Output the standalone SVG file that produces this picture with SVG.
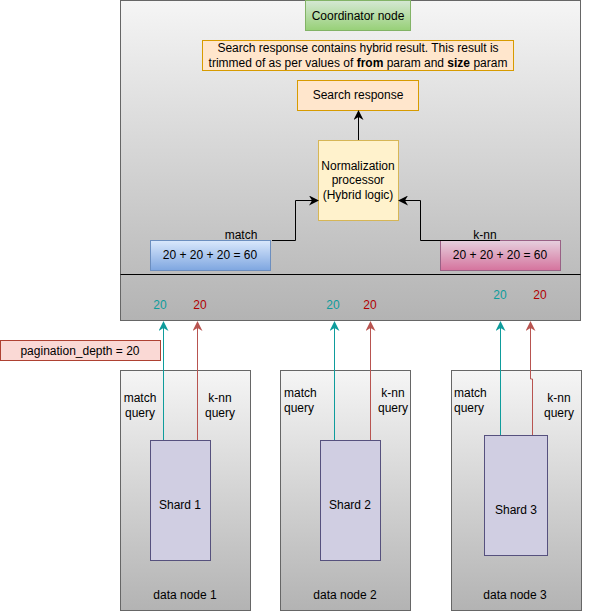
<svg xmlns="http://www.w3.org/2000/svg" width="591" height="611" viewBox="0 0 591 611">
<defs>
<linearGradient id="gGray" x1="0" y1="0" x2="0" y2="1"><stop offset="0" stop-color="#f5f5f5"/><stop offset="1" stop-color="#b3b3b3"/></linearGradient>
<linearGradient id="gGreen" x1="0" y1="0" x2="0" y2="1"><stop offset="0" stop-color="#d5e8d4"/><stop offset="1" stop-color="#97d077"/></linearGradient>
<linearGradient id="gBlue" x1="0" y1="0" x2="0" y2="1"><stop offset="0" stop-color="#dae8fc"/><stop offset="1" stop-color="#7ea6e0"/></linearGradient>
<linearGradient id="gPink" x1="0" y1="0" x2="0" y2="1"><stop offset="0" stop-color="#e6d0de"/><stop offset="1" stop-color="#d5739d"/></linearGradient>
<marker id="aBlack" viewBox="0 0 10 10" refX="9" refY="5" markerWidth="10" markerHeight="10" markerUnits="userSpaceOnUse" orient="auto"><path d="M0,0 L10,5 L0,10 L3,5 Z" fill="#000"/></marker>
<marker id="aTeal" viewBox="0 0 10 10" refX="9" refY="5" markerWidth="10" markerHeight="10" markerUnits="userSpaceOnUse" orient="auto"><path d="M0,0 L10,5 L0,10 L3,5 Z" fill="#0e9c9c"/></marker>
<marker id="aRed" viewBox="0 0 10 10" refX="9" refY="5" markerWidth="10" markerHeight="10" markerUnits="userSpaceOnUse" orient="auto"><path d="M0,0 L10,5 L0,10 L3,5 Z" fill="#b85450"/></marker>
</defs>
<style>
text{font-family:"Liberation Sans",Arial,sans-serif;font-size:12px;fill:#000;}
.c{text-anchor:middle;}
.gray{fill:url(#gGray);stroke:#666666;stroke-width:1;}
.orange{fill:#ffe6cc;stroke:#d79b00;stroke-width:1;}
.shard{fill:#d0cee2;stroke:#56517e;stroke-width:1;}
.teal{fill:#0e9c9c;}
.red{fill:#b20000;}
.lt{stroke:#0e9c9c;stroke-width:1;fill:none;}
.lr{stroke:#b85450;stroke-width:1;fill:none;}
.lb{stroke:#000;stroke-width:1;fill:none;}
</style>
<g id="coordinator">
<rect class="gray" x="120.5" y="0.5" width="460" height="320"/>
<line x1="120.5" y1="274.5" x2="580.5" y2="274.5" stroke="#000" stroke-width="1"/>
<text class="c teal" x="160" y="309">20</text>
<text class="c red" x="200" y="309">20</text>
<text class="c teal" x="333" y="309">20</text>
<text class="c red" x="370" y="309">20</text>
<text class="c teal" x="500" y="299">20</text>
<text class="c red" x="540" y="299">20</text>
</g>
<g id="coordinator-node">
<rect x="305.5" y="0.5" width="105" height="30" fill="url(#gGreen)" stroke="#82b366"/>
<text class="c" x="358" y="20">Coordinator node</text>
</g>
<g id="note">
<rect class="orange" x="202.5" y="40.5" width="311" height="30"/>
<text class="c" x="358" y="52">Search response contains hybrid result. This result is</text>
<text class="c" x="358" y="67">trimmed of as per values of <tspan font-weight="bold">from</tspan> param and <tspan font-weight="bold">size</tspan> param</text>
</g>
<g id="search-response">
<rect class="orange" x="297.5" y="80.5" width="121" height="30"/>
<text class="c" x="358" y="99">Search response</text>
</g>
<g id="normalization">
<rect x="318.5" y="140.5" width="80" height="80" fill="#fff2cc" stroke="#d6b656"/>
<text class="c" x="358" y="170">Normalization</text>
<text class="c" x="358" y="184">processor</text>
<text class="c" x="358" y="199">(Hybrid logic)</text>
</g>
<g id="match-sum">
<rect x="150.5" y="240.5" width="120" height="30" fill="url(#gBlue)" stroke="#6c8ebf"/>
<text class="c" x="210" y="259">20 + 20 + 20 = 60</text>
</g>
<g id="knn-sum">
<rect x="440.5" y="240.5" width="120" height="30" fill="url(#gPink)" stroke="#996185"/>
<text class="c" x="500" y="259">20 + 20 + 20 = 60</text>
</g>
<g id="pagination">
<rect x="0.5" y="340.5" width="160" height="20" fill="#fad9d5" stroke="#ae4132"/>
<text class="c" x="80" y="355">pagination_depth = 20</text>
</g>
<g id="data-node-1">
<rect class="gray" x="120.5" y="370.5" width="130" height="240"/>
<text class="c" x="140" y="402">match</text>
<text class="c" x="140" y="417">query</text>
<text class="c" x="220" y="402">k-nn</text>
<text class="c" x="220" y="417">query</text>
<rect class="shard" x="150.5" y="440.5" width="60" height="120"/>
<text class="c" x="180" y="509">Shard 1</text>
<text class="c" x="185" y="599">data node 1</text>
</g>
<g id="data-node-2">
<rect class="gray" x="280.5" y="370.5" width="130" height="240"/>
<text x="284" y="397">match</text>
<text x="284" y="412">query</text>
<text class="c" x="393" y="397">k-nn</text>
<text class="c" x="393" y="412">query</text>
<rect class="shard" x="320.5" y="440.5" width="60" height="120"/>
<text class="c" x="350" y="509">Shard 2</text>
<text class="c" x="345" y="599">data node 2</text>
</g>
<g id="data-node-3">
<rect class="gray" x="451.5" y="370.5" width="130" height="240" stroke="#999999"/>
<text x="454" y="397">match</text>
<text x="454" y="412">query</text>
<text class="c" x="559" y="402">k-nn</text>
<text class="c" x="559" y="417">query</text>
<rect class="shard" x="484.5" y="435.5" width="63" height="120"/>
<text class="c" x="516" y="514">Shard 3</text>
<text class="c" x="515" y="599">data node 3</text>
</g>
<g id="connectors">
<path class="lb" d="M358.5,140 V111" stroke="#555555" marker-end="url(#aBlack)"/>
<path class="lb" d="M272,240.5 H295.5 V200.5 H318" marker-end="url(#aBlack)"/>
<text class="c" x="241" y="239">match</text>
<path class="lb" d="M500,240.5 H420.5 V200.5 H399" marker-end="url(#aBlack)"/>
<text class="c" x="485" y="239">k-nn</text>
<path class="lt" d="M163.5,440 V322" marker-end="url(#aTeal)"/>
<path class="lr" d="M197.5,440 V322" marker-end="url(#aRed)"/>
<path class="lt" d="M334.5,440 V322" marker-end="url(#aTeal)"/>
<path class="lr" d="M370.5,440 V322" marker-end="url(#aRed)"/>
<path class="lt" d="M500.5,435 V322" marker-end="url(#aTeal)"/>
<path class="lr" d="M532.5,435 V379 H530.5 V322" marker-end="url(#aRed)"/>
</g>
</svg>
